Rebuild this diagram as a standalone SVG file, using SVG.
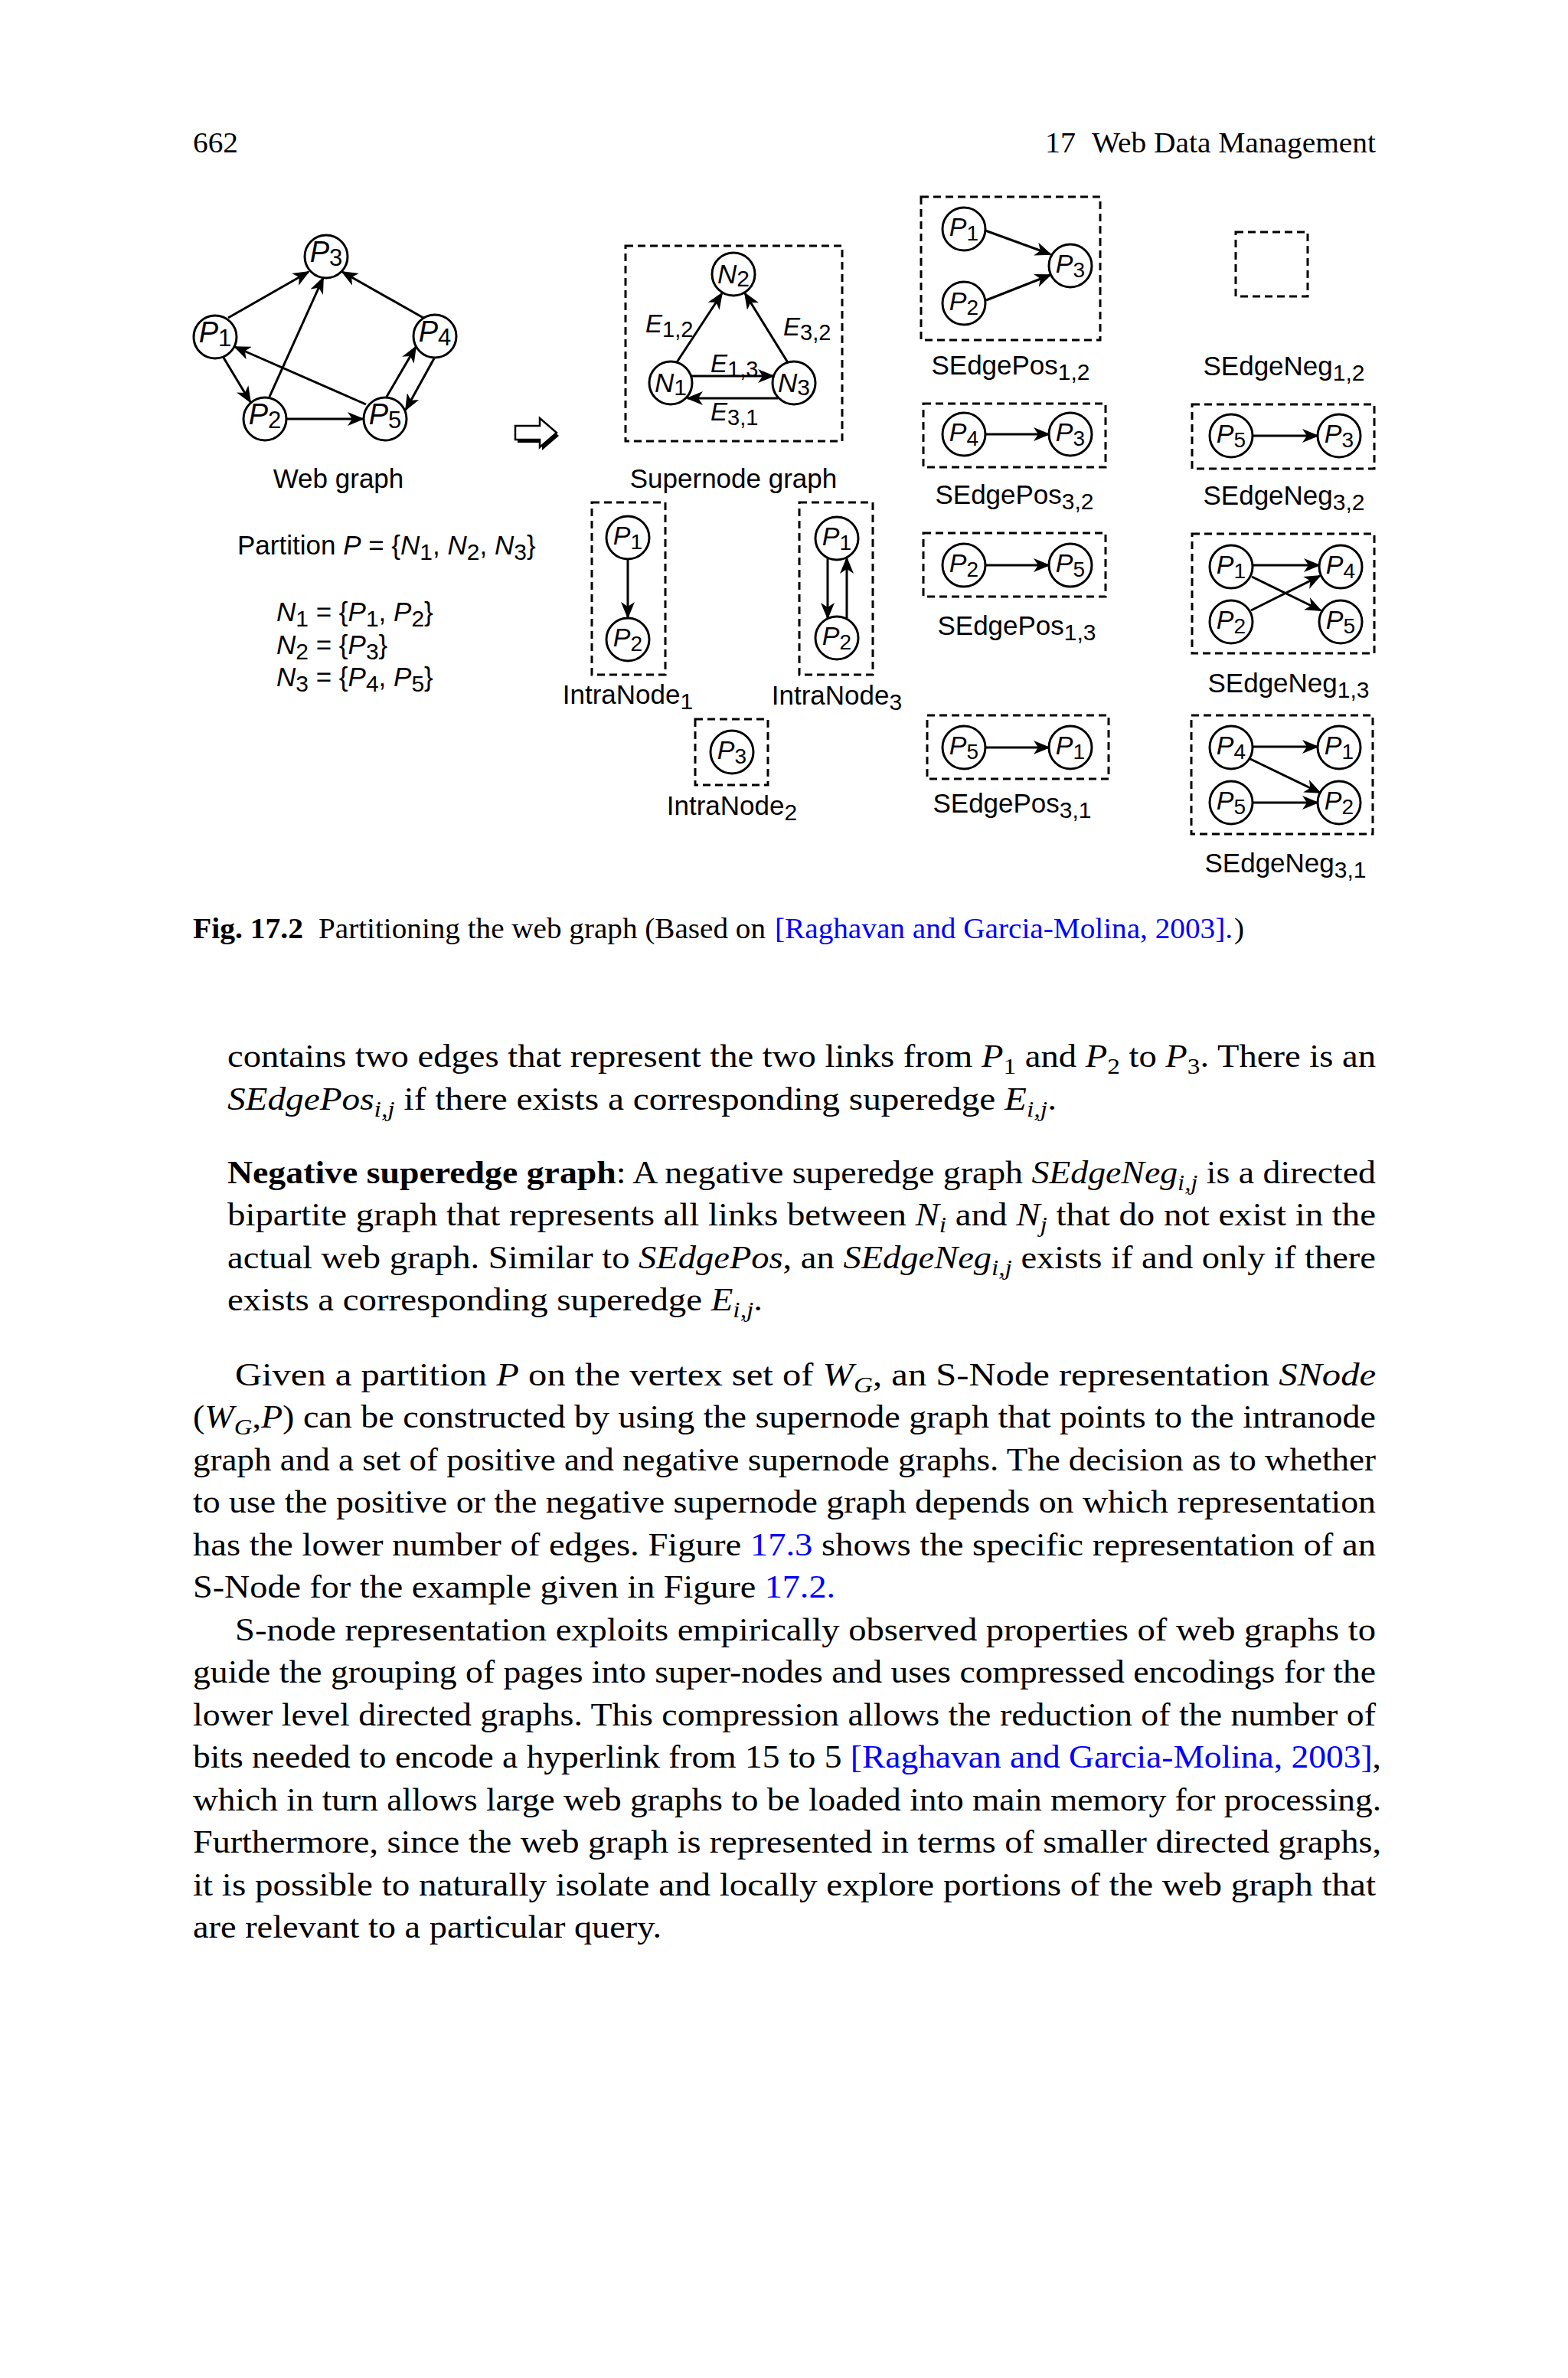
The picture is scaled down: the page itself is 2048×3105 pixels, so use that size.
<svg xmlns="http://www.w3.org/2000/svg" width="2048" height="3105" viewBox="0 0 2048 3105">
<defs>
<marker id="ah" markerUnits="userSpaceOnUse" markerWidth="22" markerHeight="18" viewBox="0 0 22 18" refX="20" refY="9" orient="auto"><path d="M0,0 L22,9 L0,18 L6,9 Z" fill="#000"/></marker>
<style>
.c{fill:#fff;stroke:#000;stroke-width:3}
.box{fill:none;stroke:#000;stroke-width:3;stroke-dasharray:10 6}
.e{stroke:#000;stroke-width:3;fill:none;marker-end:url(#ah)}
.sf{font-family:"Liberation Sans",Arial,sans-serif;fill:#000}
.lw{font-size:38px;text-anchor:middle}
.lp{font-size:34px;text-anchor:middle}
.ln{font-size:35px;text-anchor:middle}
.cap{font-size:35px}
.mid{text-anchor:middle}
.it{font-style:italic}
.tf{font-family:"Liberation Serif","Times New Roman",Tinos,Times,"Nimbus Roman","Nimbus Roman No9 L",FreeSerif,serif;font-size:42px;fill:#000}
.hd{font-size:38px}
.s{font-size:30px}
.b{font-weight:bold}
.lk{fill:#0000ff}
</style>
</defs>
<rect width="2048" height="3105" fill="#fff"/>

<!-- header -->
<text class="tf hd" x="252" y="199" textLength="59" lengthAdjust="spacingAndGlyphs">662</text>
<text class="tf hd" x="1365" y="199" textLength="40" lengthAdjust="spacingAndGlyphs">17</text>
<text class="tf hd" x="1426" y="199" textLength="371" lengthAdjust="spacingAndGlyphs">Web Data Management</text>

<!-- connectors -->
<g id="connectors">
<line class="e" x1="298" y1="415" x2="403" y2="355"/>
<line class="e" x1="352" y1="518" x2="422" y2="363"/>
<line class="e" x1="553" y1="415" x2="447" y2="355"/>
<line class="e" x1="292" y1="467" x2="327" y2="525"/>
<line class="e" x1="478" y1="528" x2="307" y2="453"/>
<line class="e" x1="567" y1="468" x2="530" y2="535"/>
<line class="e" x1="505" y1="518" x2="543" y2="453"/>
<line class="e" x1="374" y1="547" x2="474" y2="547"/>
<line class="e" x1="884" y1="473" x2="943" y2="383"/>
<line class="e" x1="1030" y1="475" x2="973" y2="383"/>
<line class="e" x1="903" y1="491" x2="1010" y2="491"/>
<line class="e" x1="1016" y1="520" x2="898" y2="520"/>
<line class="e" x1="820" y1="730" x2="820" y2="806"/>
<line class="e" x1="1081" y1="729" x2="1081" y2="807"/>
<line class="e" x1="1106" y1="807" x2="1106" y2="729"/>
<line class="e" x1="1287" y1="301" x2="1372" y2="332"/>
<line class="e" x1="1288" y1="392" x2="1372" y2="359"/>
<line class="e" x1="1287" y1="567" x2="1370" y2="567"/>
<line class="e" x1="1287" y1="738" x2="1370" y2="738"/>
<line class="e" x1="1287" y1="976" x2="1370" y2="976"/>
<line class="e" x1="1637" y1="569" x2="1721" y2="569"/>
<line class="e" x1="1637" y1="738" x2="1723" y2="738"/>
<line class="e" x1="1635" y1="753" x2="1725" y2="797"/>
<line class="e" x1="1634" y1="797" x2="1724" y2="752"/>
<line class="e" x1="1637" y1="975" x2="1721" y2="975"/>
<line class="e" x1="1633" y1="991" x2="1724" y2="1035"/>
<line class="e" x1="1637" y1="1048" x2="1721" y2="1048"/>
</g>

<!-- web graph -->
<g id="web-P1"><circle class="c" cx="281" cy="440" r="28"/><text class="sf lw" x="281" y="447"><tspan class="it">P</tspan><tspan font-size="31" dy="5">1</tspan></text></g>
<g id="web-P2"><circle class="c" cx="346" cy="547" r="28"/><text class="sf lw" x="346" y="554"><tspan class="it">P</tspan><tspan font-size="31" dy="5">2</tspan></text></g>
<g id="web-P3"><circle class="c" cx="426" cy="335" r="28"/><text class="sf lw" x="426" y="342"><tspan class="it">P</tspan><tspan font-size="31" dy="5">3</tspan></text></g>
<g id="web-P4"><circle class="c" cx="568" cy="439" r="28"/><text class="sf lw" x="568" y="446"><tspan class="it">P</tspan><tspan font-size="31" dy="5">4</tspan></text></g>
<g id="web-P5"><circle class="c" cx="503" cy="547" r="28"/><text class="sf lw" x="503" y="554"><tspan class="it">P</tspan><tspan font-size="31" dy="5">5</tspan></text></g>
<text class="sf cap mid" x="442" y="637">Web graph</text>

<!-- block arrow -->
<g id="block-arrow">
<path d="M673,556 L705,556 L705,546 L727,565 L705,584 L705,574 L673,574 Z" fill="#000" transform="translate(3,4)"/>
<path d="M673,556 L705,556 L705,546 L727,565 L705,584 L705,574 L673,574 Z" fill="#fff" stroke="#000" stroke-width="2.5"/>
</g>

<!-- partition -->
<text class="sf cap" x="310" y="724">Partition <tspan class="it">P</tspan> = {<tspan class="it">N</tspan><tspan font-size="30" dy="7">1</tspan><tspan dy="-7">, </tspan><tspan class="it">N</tspan><tspan font-size="30" dy="7">2</tspan><tspan dy="-7">, </tspan><tspan class="it">N</tspan><tspan font-size="30" dy="7">3</tspan><tspan dy="-7">}</tspan></text>
<text class="sf cap" x="361" y="811"><tspan class="it">N</tspan><tspan font-size="30" dy="7">1</tspan><tspan dy="-7"> = {</tspan><tspan class="it">P</tspan><tspan font-size="30" dy="7">1</tspan><tspan dy="-7">, </tspan><tspan class="it">P</tspan><tspan font-size="30" dy="7">2</tspan><tspan dy="-7">}</tspan></text>
<text class="sf cap" x="361" y="854"><tspan class="it">N</tspan><tspan font-size="30" dy="7">2</tspan><tspan dy="-7"> = {</tspan><tspan class="it">P</tspan><tspan font-size="30" dy="7">3</tspan><tspan dy="-7">}</tspan></text>
<text class="sf cap" x="361" y="896"><tspan class="it">N</tspan><tspan font-size="30" dy="7">3</tspan><tspan dy="-7"> = {</tspan><tspan class="it">P</tspan><tspan font-size="30" dy="7">4</tspan><tspan dy="-7">, </tspan><tspan class="it">P</tspan><tspan font-size="30" dy="7">5</tspan><tspan dy="-7">}</tspan></text>

<!-- supernode graph -->
<rect class="box" x="817" y="321" width="283" height="255"/>
<g id="sn-N1"><circle class="c" cx="876" cy="500" r="28"/><text class="sf ln" x="876" y="512"><tspan class="it">N</tspan><tspan font-size="30" dy="4">1</tspan></text></g>
<g id="sn-N2"><circle class="c" cx="958" cy="358" r="28"/><text class="sf ln" x="958" y="370"><tspan class="it">N</tspan><tspan font-size="30" dy="4">2</tspan></text></g>
<g id="sn-N3"><circle class="c" cx="1037" cy="500" r="28"/><text class="sf ln" x="1037" y="512"><tspan class="it">N</tspan><tspan font-size="30" dy="4">3</tspan></text></g>
<text class="sf" font-size="33" x="843" y="434"><tspan class="it">E</tspan><tspan font-size="29" dy="6">1,2</tspan></text>
<text class="sf" font-size="33" x="1023" y="438"><tspan class="it">E</tspan><tspan font-size="29" dy="6">3,2</tspan></text>
<text class="sf" font-size="33" x="928" y="486"><tspan class="it">E</tspan><tspan font-size="29" dy="6">1,3</tspan></text>
<text class="sf" font-size="33" x="928" y="549"><tspan class="it">E</tspan><tspan font-size="29" dy="6">3,1</tspan></text>
<text class="sf cap mid" x="958" y="637">Supernode graph</text>

<!-- intranode graphs -->
<rect class="box" x="773" y="656" width="96" height="225"/>
<g id="in1-P1"><circle class="c" cx="820" cy="702" r="28"/><text class="sf lp" x="820" y="711"><tspan class="it">P</tspan><tspan font-size="28" dy="6">1</tspan></text></g>
<g id="in1-P2"><circle class="c" cx="820" cy="835" r="28"/><text class="sf lp" x="820" y="844"><tspan class="it">P</tspan><tspan font-size="28" dy="6">2</tspan></text></g>
<text class="sf cap mid" x="820" y="919">IntraNode<tspan font-size="30" dy="7">1</tspan></text>

<rect class="box" x="1044" y="656" width="96" height="225"/>
<g id="in3-P1"><circle class="c" cx="1093" cy="703" r="28"/><text class="sf lp" x="1093" y="712"><tspan class="it">P</tspan><tspan font-size="28" dy="6">1</tspan></text></g>
<g id="in3-P2"><circle class="c" cx="1093" cy="833" r="28"/><text class="sf lp" x="1093" y="842"><tspan class="it">P</tspan><tspan font-size="28" dy="6">2</tspan></text></g>
<text class="sf cap mid" x="1093" y="920">IntraNode<tspan font-size="30" dy="7">3</tspan></text>

<rect class="box" x="908" y="939" width="95" height="86"/>
<g id="in2-P3"><circle class="c" cx="956" cy="982" r="28"/><text class="sf lp" x="956" y="991"><tspan class="it">P</tspan><tspan font-size="28" dy="6">3</tspan></text></g>
<text class="sf cap mid" x="956" y="1064">IntraNode<tspan font-size="30" dy="7">2</tspan></text>

<!-- SEdgePos -->
<rect class="box" x="1203" y="257" width="234" height="187"/>
<g id="sp12-P1"><circle class="c" cx="1259" cy="299" r="28"/><text class="sf lp" x="1259" y="308"><tspan class="it">P</tspan><tspan font-size="28" dy="6">1</tspan></text></g>
<g id="sp12-P2"><circle class="c" cx="1259" cy="396" r="28"/><text class="sf lp" x="1259" y="405"><tspan class="it">P</tspan><tspan font-size="28" dy="6">2</tspan></text></g>
<g id="sp12-P3"><circle class="c" cx="1398" cy="347" r="28"/><text class="sf lp" x="1398" y="356"><tspan class="it">P</tspan><tspan font-size="28" dy="6">3</tspan></text></g>
<text class="sf cap mid" x="1320" y="489">SEdgePos<tspan font-size="30" dy="7">1,2</tspan></text>

<rect class="box" x="1206" y="527" width="238" height="83"/>
<g id="sp32-P4"><circle class="c" cx="1259" cy="567" r="28"/><text class="sf lp" x="1259" y="576"><tspan class="it">P</tspan><tspan font-size="28" dy="6">4</tspan></text></g>
<g id="sp32-P3"><circle class="c" cx="1398" cy="567" r="28"/><text class="sf lp" x="1398" y="576"><tspan class="it">P</tspan><tspan font-size="28" dy="6">3</tspan></text></g>
<text class="sf cap mid" x="1325" y="658">SEdgePos<tspan font-size="30" dy="7">3,2</tspan></text>

<rect class="box" x="1206" y="696" width="238" height="83"/>
<g id="sp13-P2"><circle class="c" cx="1259" cy="738" r="28"/><text class="sf lp" x="1259" y="747"><tspan class="it">P</tspan><tspan font-size="28" dy="6">2</tspan></text></g>
<g id="sp13-P5"><circle class="c" cx="1398" cy="738" r="28"/><text class="sf lp" x="1398" y="747"><tspan class="it">P</tspan><tspan font-size="28" dy="6">5</tspan></text></g>
<text class="sf cap mid" x="1328" y="829">SEdgePos<tspan font-size="30" dy="7">1,3</tspan></text>

<rect class="box" x="1211" y="934" width="237" height="83"/>
<g id="sp31-P5"><circle class="c" cx="1259" cy="976" r="28"/><text class="sf lp" x="1259" y="985"><tspan class="it">P</tspan><tspan font-size="28" dy="6">5</tspan></text></g>
<g id="sp31-P1"><circle class="c" cx="1398" cy="976" r="28"/><text class="sf lp" x="1398" y="985"><tspan class="it">P</tspan><tspan font-size="28" dy="6">1</tspan></text></g>
<text class="sf cap mid" x="1322" y="1061">SEdgePos<tspan font-size="30" dy="7">3,1</tspan></text>

<!-- SEdgeNeg -->
<rect class="box" x="1614" y="303" width="94" height="84"/>
<text class="sf cap mid" x="1677" y="490">SEdgeNeg<tspan font-size="30" dy="7">1,2</tspan></text>

<rect class="box" x="1557" y="528" width="238" height="84"/>
<g id="sn32-P5"><circle class="c" cx="1608" cy="569" r="28"/><text class="sf lp" x="1608" y="578"><tspan class="it">P</tspan><tspan font-size="28" dy="6">5</tspan></text></g>
<g id="sn32-P3"><circle class="c" cx="1749" cy="569" r="28"/><text class="sf lp" x="1749" y="578"><tspan class="it">P</tspan><tspan font-size="28" dy="6">3</tspan></text></g>
<text class="sf cap mid" x="1677" y="659">SEdgeNeg<tspan font-size="30" dy="7">3,2</tspan></text>

<rect class="box" x="1557" y="697" width="238" height="156"/>
<g id="sn13-P1"><circle class="c" cx="1608" cy="740" r="28"/><text class="sf lp" x="1608" y="749"><tspan class="it">P</tspan><tspan font-size="28" dy="6">1</tspan></text></g>
<g id="sn13-P2"><circle class="c" cx="1608" cy="812" r="28"/><text class="sf lp" x="1608" y="821"><tspan class="it">P</tspan><tspan font-size="28" dy="6">2</tspan></text></g>
<g id="sn13-P4"><circle class="c" cx="1751" cy="740" r="28"/><text class="sf lp" x="1751" y="749"><tspan class="it">P</tspan><tspan font-size="28" dy="6">4</tspan></text></g>
<g id="sn13-P5"><circle class="c" cx="1751" cy="812" r="28"/><text class="sf lp" x="1751" y="821"><tspan class="it">P</tspan><tspan font-size="28" dy="6">5</tspan></text></g>
<text class="sf cap mid" x="1683" y="904">SEdgeNeg<tspan font-size="30" dy="7">1,3</tspan></text>

<rect class="box" x="1556" y="934" width="237" height="155"/>
<g id="sn31-P4"><circle class="c" cx="1608" cy="976" r="28"/><text class="sf lp" x="1608" y="985"><tspan class="it">P</tspan><tspan font-size="28" dy="6">4</tspan></text></g>
<g id="sn31-P5"><circle class="c" cx="1608" cy="1048" r="28"/><text class="sf lp" x="1608" y="1057"><tspan class="it">P</tspan><tspan font-size="28" dy="6">5</tspan></text></g>
<g id="sn31-P1"><circle class="c" cx="1749" cy="976" r="28"/><text class="sf lp" x="1749" y="985"><tspan class="it">P</tspan><tspan font-size="28" dy="6">1</tspan></text></g>
<g id="sn31-P2"><circle class="c" cx="1749" cy="1048" r="28"/><text class="sf lp" x="1749" y="1057"><tspan class="it">P</tspan><tspan font-size="28" dy="6">2</tspan></text></g>
<text class="sf cap mid" x="1679" y="1139">SEdgeNeg<tspan font-size="30" dy="7">3,1</tspan></text>

<!-- caption -->
<text class="tf b hd" x="252" y="1225" textLength="144" lengthAdjust="spacingAndGlyphs">Fig. 17.2</text>
<text class="tf hd" x="416" y="1225" textLength="584" lengthAdjust="spacingAndGlyphs">Partitioning the web graph (Based on</text>
<text class="tf hd lk" x="1012" y="1225" textLength="598" lengthAdjust="spacingAndGlyphs">[Raghavan and Garcia-Molina, 2003].</text>
<text class="tf hd" x="1612" y="1225" textLength="13" lengthAdjust="spacingAndGlyphs">)</text>

<!-- body text -->
<text class="tf" x="297" y="1393" textLength="1500" lengthAdjust="spacingAndGlyphs">contains two edges that represent the two links from <tspan class="it">P</tspan><tspan class="s" dy="9">1</tspan><tspan dy="-9"> and </tspan><tspan class="it">P</tspan><tspan class="s" dy="9">2</tspan><tspan dy="-9"> to </tspan><tspan class="it">P</tspan><tspan class="s" dy="9">3</tspan><tspan dy="-9">. There is an</tspan></text>
<text class="tf" x="297" y="1449" textLength="1083" lengthAdjust="spacingAndGlyphs"><tspan class="it">SEdgePos</tspan><tspan class="it s" dy="9">i,j</tspan><tspan dy="-9"> if there exists a corresponding superedge </tspan><tspan class="it">E</tspan><tspan class="it s" dy="9">i,j</tspan><tspan dy="-9">.</tspan></text>
<text class="tf" x="297" y="1545" textLength="1500" lengthAdjust="spacingAndGlyphs"><tspan class="b">Negative superedge graph</tspan>: A negative superedge graph <tspan class="it">SEdgeNeg</tspan><tspan class="it s" dy="9">i,j</tspan><tspan dy="-9"> is a directed</tspan></text>
<text class="tf" x="297" y="1600" textLength="1500" lengthAdjust="spacingAndGlyphs">bipartite graph that represents all links between <tspan class="it">N</tspan><tspan class="it s" dy="9">i</tspan><tspan dy="-9"> and </tspan><tspan class="it">N</tspan><tspan class="it s" dy="9">j</tspan><tspan dy="-9"> that do not exist in the</tspan></text>
<text class="tf" x="297" y="1656" textLength="1500" lengthAdjust="spacingAndGlyphs">actual web graph. Similar to <tspan class="it">SEdgePos</tspan>, an <tspan class="it">SEdgeNeg</tspan><tspan class="it s" dy="9">i,j</tspan><tspan dy="-9"> exists if and only if there</tspan></text>
<text class="tf" x="297" y="1711" textLength="699" lengthAdjust="spacingAndGlyphs">exists a corresponding superedge <tspan class="it">E</tspan><tspan class="it s" dy="9">i,j</tspan><tspan dy="-9">.</tspan></text>

<text class="tf" x="307" y="1809" textLength="1490" lengthAdjust="spacingAndGlyphs">Given a partition <tspan class="it">P</tspan> on the vertex set of <tspan class="it">W</tspan><tspan class="it s" dy="9">G</tspan><tspan dy="-9">, an S-Node representation </tspan><tspan class="it">SNode</tspan></text>
<text class="tf" x="252" y="1864" textLength="1545" lengthAdjust="spacingAndGlyphs">(<tspan class="it">W</tspan><tspan class="it s" dy="9">G</tspan><tspan dy="-9">,</tspan><tspan class="it">P</tspan>) can be constructed by using the supernode graph that points to the intranode</text>
<text class="tf" x="252" y="1920" textLength="1545" lengthAdjust="spacingAndGlyphs">graph and a set of positive and negative supernode graphs. The decision as to whether</text>
<text class="tf" x="252" y="1975" textLength="1545" lengthAdjust="spacingAndGlyphs">to use the positive or the negative supernode graph depends on which representation</text>
<text class="tf" x="252" y="2031" textLength="1545" lengthAdjust="spacingAndGlyphs">has the lower number of edges. Figure <tspan class="lk">17.3</tspan> shows the specific representation of an</text>
<text class="tf" x="252" y="2086" textLength="839" lengthAdjust="spacingAndGlyphs">S-Node for the example given in Figure <tspan class="lk">17.2.</tspan></text>
<text class="tf" x="307" y="2142" textLength="1490" lengthAdjust="spacingAndGlyphs">S-node representation exploits empirically observed properties of web graphs to</text>
<text class="tf" x="252" y="2197" textLength="1545" lengthAdjust="spacingAndGlyphs">guide the grouping of pages into super-nodes and uses compressed encodings for the</text>
<text class="tf" x="252" y="2253" textLength="1545" lengthAdjust="spacingAndGlyphs">lower level directed graphs. This compression allows the reduction of the number of</text>
<text class="tf" x="252" y="2308" textLength="1552" lengthAdjust="spacingAndGlyphs">bits needed to encode a hyperlink from 15 to 5 <tspan class="lk">[Raghavan and Garcia-Molina, 2003]</tspan>,</text>
<text class="tf" x="252" y="2364" textLength="1552" lengthAdjust="spacingAndGlyphs">which in turn allows large web graphs to be loaded into main memory for processing.</text>
<text class="tf" x="252" y="2419" textLength="1552" lengthAdjust="spacingAndGlyphs">Furthermore, since the web graph is represented in terms of smaller directed graphs,</text>
<text class="tf" x="252" y="2475" textLength="1545" lengthAdjust="spacingAndGlyphs">it is possible to naturally isolate and locally explore portions of the web graph that</text>
<text class="tf" x="252" y="2530" textLength="612" lengthAdjust="spacingAndGlyphs">are relevant to a particular query.</text>
</svg>
